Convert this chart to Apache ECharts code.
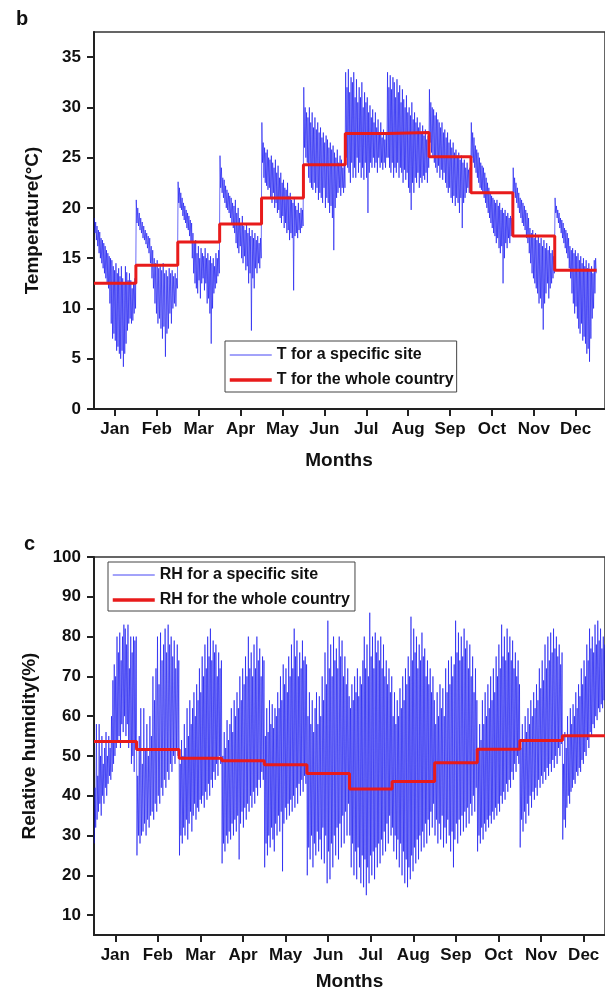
<!DOCTYPE html>
<html>
<head>
<meta charset="utf-8">
<title>Temperature and relative humidity by month</title>
<script src="https://cdn.jsdelivr.net/npm/echarts@6/dist/echarts.min.js"></script>
<style>
  html, body { margin: 0; padding: 0; background: #fff; }
  #main { width: 605px; height: 994px; }
</style>
</head>
<body>
<div id="main"></div>
<script>
// months on the x axis
const monthNames = ['Jan', 'Feb', 'Mar', 'Apr', 'May', 'Jun', 'Jul', 'Aug', 'Sep', 'Oct', 'Nov', 'Dec'];
const monthDays = [31, 28, 31, 30, 31, 30, 31, 31, 30, 31, 30, 31];

// b: daily high / low temperature for the site (°C), one line per month
const tempHigh = [
  19.0, 18.6, 18.2, 17.8, 17.6, 17.0, 16.8, 16.5, 16.2, 15.8, 15.5, 15.2, 15.0, 14.8, 14.2, 13.8, 14.5, 13.5, 14.0, 13.2, 14.2, 13.0, 12.5, 14.2, 13.6, 12.8, 13.5, 12.8, 12.0, 12.5, 13.0,
  20.8, 20.0, 19.5, 19.0, 18.6, 18.2, 17.8, 17.5, 17.2, 17.0, 16.2, 15.8, 15.0, 14.5, 14.8, 14.0, 14.2, 13.8, 14.5, 13.5, 13.8, 13.2, 14.0, 13.5, 13.8, 13.2, 13.5, 13.0,
  22.6, 22.0, 21.5, 21.0, 20.5, 20.2, 19.8, 19.5, 19.2, 18.8, 18.5, 17.5, 16.5, 16.8, 15.5, 16.2, 15.0, 16.0, 15.5, 15.2, 16.0, 15.0, 15.5, 14.8, 15.2, 14.5, 15.0, 14.2, 15.5, 15.0, 15.8,
  25.2, 24.0, 23.0, 22.8, 22.2, 21.8, 21.5, 21.2, 21.0, 20.5, 20.2, 20.8, 19.5, 20.0, 19.0, 18.5, 19.2, 18.2, 17.8, 18.5, 17.5, 18.0, 17.2, 17.8, 17.0, 17.5, 16.8, 17.2, 16.5, 17.0,
  28.5, 26.5, 26.0, 25.5, 25.8, 25.0, 24.8, 25.2, 24.5, 24.0, 24.8, 23.5, 24.2, 23.0, 23.5, 22.5, 22.8, 22.0, 21.8, 22.5, 21.2, 21.5, 20.8, 20.5, 21.0, 20.2, 19.8, 20.5, 19.5, 20.0, 19.8,
  32.0, 30.0, 29.5, 29.0, 30.0, 28.5, 29.5, 28.0, 29.0, 27.8, 28.5, 27.5, 28.0, 27.0, 27.5, 26.5, 27.2, 26.8, 26.0, 26.5, 25.8, 26.2, 25.5, 25.0, 25.8, 24.5, 25.2, 24.8, 24.0, 24.5,
  33.5, 32.0, 33.8, 31.5, 33.0, 32.5, 33.5, 31.0, 32.8, 30.5, 32.0, 31.0, 32.5, 30.0, 31.5, 30.5, 31.0, 29.5, 30.2, 29.0, 29.8, 28.5, 29.5, 28.0, 28.8, 27.5, 28.5, 27.0, 27.8, 26.8, 27.5,
  33.5, 32.0, 33.2, 31.8, 33.0, 32.5, 31.0, 32.8, 31.5, 32.2, 30.5, 31.8, 30.8, 30.0, 31.2, 29.5, 30.0, 29.2, 30.5, 28.8, 29.5, 28.5, 29.0, 28.0, 28.5, 27.5, 28.2, 27.2, 27.8, 26.8, 27.2,
  31.8, 30.5, 30.0, 29.8, 29.2, 29.5, 28.8, 28.5, 28.0, 28.5, 27.5, 27.8, 27.0, 27.5, 26.5, 26.8, 26.0, 26.5, 25.5, 25.8, 25.2, 25.5, 24.8, 25.2, 24.5, 24.8, 24.0, 24.5, 23.8, 24.0,
  28.5, 27.5, 27.0, 26.2, 25.8, 25.5, 25.0, 24.5, 24.2, 24.0, 23.5, 23.0, 22.5, 22.0, 21.5, 21.2, 21.0, 20.8, 20.5, 20.8, 20.2, 20.5, 19.8, 20.0, 19.5, 19.8, 19.2, 19.5, 19.0, 19.2, 19.0,
  24.0, 23.0, 22.5, 22.0, 21.5, 21.0, 20.8, 20.5, 20.2, 19.8, 19.5, 19.0, 18.0, 17.5, 17.8, 17.0, 17.5, 16.8, 17.2, 16.5, 17.0, 16.2, 16.8, 16.0, 16.5, 15.8, 16.2, 15.5, 15.8, 15.2,
  21.0, 20.2, 19.8, 19.5, 19.0, 18.8, 18.5, 18.0, 17.8, 17.5, 17.0, 16.2, 15.8, 16.0, 15.5, 15.8, 15.2, 15.5, 14.8, 15.2, 14.5, 15.0, 14.2, 14.8, 14.0, 14.5, 13.8, 14.2, 13.5, 14.8, 15.0
];
const tempLow = [
  17.5, 16.8, 16.2, 15.5, 15.0, 14.5, 14.0, 13.5, 13.0, 12.5, 12.0, 10.5, 8.5, 7.0, 7.5, 6.8, 5.8, 6.2, 5.5, 5.0, 5.8, 4.2, 5.5, 6.5, 7.8, 8.5, 9.0, 8.5, 8.8, 9.5, 10.0,
  18.5, 18.2, 17.8, 17.5, 17.0, 16.8, 16.4, 16.0, 15.5, 14.5, 13.0, 12.0, 10.5, 9.5, 8.5, 9.0, 8.0, 7.0, 8.2, 5.2, 7.5, 8.0, 9.5, 8.5, 10.0, 10.5, 10.2, 12.0,
  20.5, 20.0, 19.8, 19.2, 18.8, 18.5, 18.0, 17.8, 17.2, 16.5, 15.0, 13.5, 12.5, 12.0, 11.5, 12.8, 11.0, 12.5, 13.0, 11.8, 12.5, 10.5, 11.0, 9.5, 6.5, 10.0, 11.5, 12.0, 12.5, 13.2, 13.5,
  22.0, 21.5, 21.0, 20.5, 20.0, 19.8, 19.5, 19.0, 18.5, 18.0, 17.5, 16.5, 16.0, 15.5, 16.2, 15.0, 14.5, 15.2, 13.8, 14.2, 12.5, 13.5, 7.8, 13.0, 12.0, 14.0, 13.5, 14.5, 14.0, 15.0,
  24.5, 23.0, 22.5, 22.2, 21.8, 22.0, 21.0, 20.5, 21.5, 20.0, 20.5, 19.5, 19.8, 19.0, 18.5, 19.2, 18.0, 18.5, 17.5, 17.8, 16.8, 17.5, 17.0, 11.8, 17.2, 17.5, 17.0, 17.8, 17.5, 18.0, 18.2,
  26.0, 25.0, 24.5, 23.0, 22.5, 22.0, 21.8, 22.5, 21.5, 22.0, 20.8, 21.5, 21.0, 20.5, 22.0, 20.0, 21.0, 20.5, 19.5, 20.2, 19.0, 15.8, 20.0, 21.0, 21.5, 22.0, 21.2, 22.0, 21.5, 22.0,
  25.0, 24.0, 23.5, 22.5, 24.5, 23.0, 24.0, 23.0, 25.0, 23.5, 24.5, 23.0, 24.0, 22.8, 24.5, 23.0, 19.5, 23.5, 24.5, 24.0, 25.0, 24.0, 24.5, 23.5, 25.0, 24.0, 24.5, 23.8, 24.5, 24.0, 25.0,
  25.0, 24.0, 23.5, 24.5, 23.0, 24.0, 23.5, 24.5, 23.0, 24.0, 23.5, 22.5, 23.8, 22.8, 23.5, 22.0, 21.5, 19.8, 22.5, 21.5, 23.0, 22.5, 23.5, 22.0, 23.0, 22.5, 23.2, 22.8, 23.5, 22.5, 24.0,
  26.5, 25.5, 25.0, 24.5, 24.0, 23.5, 24.2, 23.0, 23.8, 22.8, 23.5, 22.5, 22.0, 21.5, 22.0, 21.0, 20.5, 21.2, 20.2, 21.0, 20.5, 19.5, 21.0, 18.0, 20.5, 21.0, 21.5, 22.0, 21.5, 22.5,
  25.0, 24.5, 24.0, 23.5, 23.0, 22.5, 22.0, 21.8, 21.5, 21.0, 20.5, 20.0, 19.5, 19.0, 18.5, 18.0, 17.5, 17.2, 16.5, 17.0, 16.0, 15.5, 16.2, 12.5, 15.0, 16.5, 16.0, 17.0, 16.5, 17.2, 17.5,
  21.5, 21.0, 20.5, 20.0, 19.5, 19.0, 18.5, 18.2, 17.8, 17.0, 16.5, 15.5, 14.5, 13.5, 13.0, 12.5, 12.0, 11.5, 10.5, 11.0, 10.0, 7.9, 10.5, 11.5, 12.5, 11.0, 12.0, 12.5, 13.0, 13.5,
  19.5, 19.0, 18.5, 18.0, 17.5, 17.0, 16.5, 16.0, 15.5, 15.0, 14.0, 13.0, 11.5, 10.5, 9.5, 10.2, 9.0, 8.0, 7.5, 8.5, 6.8, 7.2, 6.5, 5.5, 6.0, 4.7, 7.0, 9.0, 10.0, 11.5, 13.5
];
// b: monthly mean for the whole country (°C)
const tempCountry = [12.5, 14.3, 16.6, 18.4, 21.0, 24.3, 27.4, 27.5, 25.1, 21.5, 17.2, 13.8];

// c: daily high / low relative humidity for the site (%)
const rhHigh = [
  42, 58, 45, 58, 50, 55, 48, 52, 56, 50, 55, 52, 60, 69, 73, 70, 80, 76, 81, 74, 80, 83, 82, 78, 83, 72, 80, 76, 80, 79, 80,
  45, 55, 62, 48, 62, 52, 58, 50, 60, 55, 70, 64, 72, 80, 68, 81, 74, 78, 82, 76, 83, 78, 80, 75, 79, 72, 78, 74,
  48, 54, 50, 58, 52, 62, 55, 64, 58, 62, 66, 60, 68, 64, 72, 66, 75, 70, 78, 72, 80, 75, 82, 74, 79, 76, 78, 70, 76, 72, 74,
  50, 56, 52, 59, 54, 58, 62, 56, 64, 60, 66, 62, 70, 64, 72, 68, 75, 70, 80, 72, 76, 70, 78, 72, 80, 74, 77, 70, 75, 74,
  55, 62, 56, 64, 58, 63, 57, 62, 60, 66, 62, 70, 64, 73, 68, 72, 66, 75, 70, 78, 72, 82, 75, 79, 70, 76, 72, 79, 74, 75, 73,
  60, 66, 58, 64, 56, 62, 66, 58, 65, 60, 70, 64, 76, 68, 84, 72, 78, 70, 80, 74, 77, 72, 80, 75, 79, 70, 75, 68, 72, 65,
  62, 68, 64, 70, 66, 72, 65, 70, 68, 74, 80, 72, 78, 70, 86, 75, 80, 72, 81, 76, 79, 74, 80, 72, 78, 70, 74, 68, 72, 66, 70,
  60, 66, 58, 64, 60, 67, 62, 70, 64, 72, 68, 75, 70, 85, 74, 82, 76, 80, 72, 78, 74, 81, 75, 77, 70, 74, 68, 72, 66, 70, 64,
  58, 66, 60, 68, 62, 67, 60, 72, 66, 74, 68, 75, 70, 73, 84, 76, 81, 74, 80, 75, 82, 77, 79, 72, 78, 70, 75, 66, 72, 64,
  52, 58, 54, 64, 58, 66, 60, 68, 62, 70, 64, 72, 66, 75, 70, 78, 72, 83, 75, 80, 74, 82, 76, 80, 74, 79, 72, 76, 70, 74, 68,
  52, 58, 54, 60, 56, 62, 58, 64, 60, 66, 62, 68, 64, 72, 67, 74, 69, 78, 72, 80, 74, 81, 76, 82, 77, 80, 75, 78, 73, 76,
  48, 56, 52, 60, 55, 62, 58, 63, 60, 66, 62, 68, 65, 72, 68, 74, 70, 78, 74, 82, 77, 80, 76, 83, 78, 84, 79, 82, 77, 80, 78
];
const rhLow = [
  28, 32, 34, 36, 38, 35, 40, 38, 42, 40, 43, 45, 44, 46, 48, 50, 52, 54, 55, 52, 58, 56, 60, 55, 58, 52, 54, 48, 50, 46, 52,
  25, 30, 28, 30, 31, 33, 30, 34, 32, 35, 36, 34, 38, 36, 40, 38, 42, 40, 44, 42, 46, 44, 48, 46, 50, 48, 52, 50,
  25, 30, 28, 32, 30, 34, 29, 33, 36, 31, 35, 38, 34, 37, 36, 39, 38, 40, 37, 41, 39, 43, 40, 44, 42, 46, 44, 48, 45, 50, 48,
  23, 28, 26, 30, 28, 31, 29, 33, 30, 34, 31, 35, 24, 33, 36, 32, 37, 34, 38, 36, 40, 37, 41, 38, 42, 40, 44, 42, 46, 44,
  22, 28, 25, 30, 27, 32, 29, 26, 33, 30, 35, 31, 36, 21, 33, 37, 34, 38, 35, 39, 36, 40, 37, 42, 38, 43, 40, 44, 41, 45, 43,
  20, 27, 24, 30, 22, 28, 25, 31, 26, 29, 24, 32, 23, 30, 18, 26, 19, 28, 22, 30, 25, 32, 24, 33, 27, 35, 28, 36, 30, 38,
  30, 22, 28, 20, 26, 19, 27, 22, 18, 25, 17, 24, 15, 22, 18, 25, 20, 26, 19, 27, 22, 28, 23, 29, 25, 31, 26, 33, 28, 35, 30,
  32, 26, 30, 24, 29, 22, 28, 20, 26, 18, 24, 17, 22, 19, 25, 21, 27, 23, 29, 24, 30, 26, 31, 27, 33, 28, 34, 30, 36, 32, 38,
  30, 34, 28, 33, 29, 35, 27, 32, 28, 34, 30, 26, 31, 22, 29, 33, 28, 34, 30, 35, 31, 36, 32, 37, 33, 38, 35, 40, 36, 42,
  26, 30, 28, 32, 29, 33, 31, 34, 32, 35, 33, 36, 34, 37, 35, 38, 36, 40, 38, 41, 39, 43, 41, 44, 42, 46, 44, 48, 46, 50, 48,
  27, 34, 31, 36, 33, 38, 35, 40, 37, 41, 39, 42, 40, 44, 42, 45, 43, 46, 44, 47, 45, 48, 46, 49, 47, 50, 48, 52, 50, 53,
  29, 34, 32, 37, 40, 38, 41, 42, 44, 43, 46, 45, 47, 46, 49, 48, 51, 50, 54, 52, 56, 55, 58, 57, 60, 59, 62, 61, 63, 62, 64
];
// c: monthly mean for the whole country (%)
const rhCountry = [53.6, 51.6, 49.4, 48.8, 47.8, 45.6, 41.7, 43.6, 48.3, 51.7, 53.9, 55.1];

const FONT = "'Liberation Sans', Arial, sans-serif";
const BLUE = 'rgba(10, 10, 240, 0.75)';
const RED = '#e81b1b';

/* spread each day's two readings over the day's slot inside its month */
function dailyPoints(first, second) {
    let pts = [];
    let d = 0;
    monthDays.forEach((n, m) => {
        for (let k = 0; k < n; k++, d++) {
            pts.push([m + (k + 0.25) / n, first[d]]);
            pts.push([m + (k + 0.75) / n, second[d]]);
        }
    });
    return pts;
}

/* one flat step per month */
function stepPoints(values) {
    let pts = values.map((v, i) => [i, v]);
    pts.push([values.length, values[values.length - 1]]);
    return pts;
}

function monthAxis(gridIndex, max, nameGap, namePadding) {
    const ticks = monthNames.map((_, i) => i + 0.5);
    return {
        type: 'value',
        gridIndex: gridIndex,
        min: 0,
        max: max,
        name: 'Months',
        nameLocation: 'middle',
        nameGap: nameGap,
        nameTextStyle: { fontFamily: FONT, fontSize: 19, fontWeight: 'bold', color: '#111', padding: namePadding },
        axisLine: { lineStyle: { color: '#222', width: 2 } },
        axisTick: { customValues: ticks, length: 7, lineStyle: { color: '#222', width: 2 } },
        axisLabel: {
            customValues: ticks,
            margin: 12,
            fontFamily: FONT, fontSize: 17, fontWeight: 'bold', color: '#111',
            formatter: v => monthNames[Math.round(v - 0.5)]
        },
        splitLine: { show: false }
    };
}

function numberAxis(gridIndex, min, max, ticks, name, nameGap) {
    return {
        type: 'value',
        gridIndex: gridIndex,
        min: min,
        max: max,
        name: name,
        nameLocation: 'middle',
        nameGap: nameGap,
        nameTextStyle: { fontFamily: FONT, fontSize: 19, fontWeight: 'bold', color: '#111' },
        axisLine: { show: true, lineStyle: { color: '#222', width: 2 } },
        axisTick: { show: true, customValues: ticks, length: 7, lineStyle: { color: '#222', width: 2 } },
        axisLabel: { customValues: ticks, margin: 13, fontFamily: FONT, fontSize: 17, fontWeight: 'bold', color: '#111' },
        splitLine: { show: false }
    };
}

function legendBox(siteName, countryName, left, top, padding) {
    return {
        data: [
            { name: siteName, lineStyle: { width: 1 } },
            { name: countryName, lineStyle: { width: 3.5 } }
        ],
        orient: 'vertical',
        left: left,
        top: top,
        itemWidth: 42,
        itemHeight: 14,
        itemGap: 7,
        padding: padding,
        borderColor: '#444',
        borderWidth: 1,
        borderRadius: 0,
        backgroundColor: '#fff',
        // line only, no marker in the middle of the legend sample
        itemStyle: { opacity: 0 },
        textStyle: { fontFamily: FONT, fontSize: 16, fontWeight: 'bold', color: '#111', lineHeight: 18 }
    };
}

function siteSeries(name, idx, data) {
    return {
        name: name, type: 'line', xAxisIndex: idx, yAxisIndex: idx,
        data: data, symbol: 'none', showSymbol: false,
        lineStyle: { color: BLUE, width: 0.8 }, itemStyle: { color: BLUE },
        z: 2
    };
}

function countrySeries(name, idx, values) {
    return {
        name: name, type: 'line', xAxisIndex: idx, yAxisIndex: idx,
        data: stepPoints(values), step: 'end', symbol: 'none', showSymbol: false,
        lineStyle: { color: RED, width: 3 }, itemStyle: { color: RED },
        z: 3
    };
}

let myChart = echarts.init(document.getElementById('main'), null, { renderer: 'canvas' });
let option = {
    animation: false,
    backgroundColor: '#fff',
    title: [
        { text: 'b', left: 11, top: 4, textStyle: { fontFamily: FONT, fontSize: 20, fontWeight: 'bold', color: '#111' } },
        { text: 'c', left: 19, top: 529, textStyle: { fontFamily: FONT, fontSize: 20, fontWeight: 'bold', color: '#111' } }
    ],
    grid: [
        { left: 94, top: 32, width: 512, height: 377, show: true, borderColor: '#333', borderWidth: 1.5, backgroundColor: 'transparent' },
        { left: 94, top: 557, width: 511, height: 378, show: true, borderColor: '#333', borderWidth: 1.5, backgroundColor: 'transparent' }
    ],
    legend: [
        legendBox('T for a specific site', 'T for the whole country', 225, 341, [5, 3, 3, 3]),
        legendBox('RH for a specific site', 'RH for the whole country', 108, 562, [4, 5, 2, 3])
    ],
    xAxis: [
        monthAxis(0, 12.2, 42, [0, 21, 0, 0]),
        monthAxis(1, 12, 37, [0, 0, 0, 0])
    ],
    yAxis: [
        numberAxis(0, 0, 37.5, [0, 5, 10, 15, 20, 25, 30, 35], 'Temperature(°C)', 52),
        numberAxis(1, 5, 100, [10, 20, 30, 40, 50, 60, 70, 80, 90, 100], 'Relative humidity(%)', 55)
    ],
    series: [
        siteSeries('T for a specific site', 0, dailyPoints(tempHigh, tempLow)),
        countrySeries('T for the whole country', 0, tempCountry),
        siteSeries('RH for a specific site', 1, dailyPoints(rhLow, rhHigh)),
        countrySeries('RH for the whole country', 1, rhCountry)
    ]
};
myChart.setOption(option);
</script>
</body>
</html>
